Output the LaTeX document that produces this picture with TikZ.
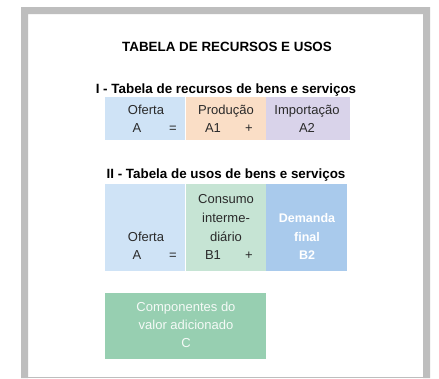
\documentclass[tikz,border=0pt]{standalone}
\usepackage{fontspec}
\setmainfont{Liberation Sans}
\usepackage{tikz}
\usetikzlibrary{positioning}
\definecolor{framegray}{HTML}{BEBEBE}
\definecolor{ofertablue}{HTML}{CFE3F6}
\definecolor{prodorange}{HTML}{FADEC6}
\definecolor{importpurple}{HTML}{D9D3EA}
\definecolor{consgreen}{HTML}{C6E4D4}
\definecolor{demblue}{HTML}{A9CAEC}
\definecolor{valgreen}{HTML}{97CFB1}
\definecolor{textgray}{HTML}{2A2A2A}
\tikzstyle{cell} = [rectangle, inner sep=0pt, anchor=north west]
\tikzstyle{txt} = [inner sep=0pt, anchor=base, text=textgray, font=\fontsize{13}{15}\selectfont]
\tikzstyle{wtxt} = [inner sep=0pt, anchor=base, text=white, font=\fontsize{12.5}{15}\selectfont\bfseries]
\tikzstyle{ltxt} = [inner sep=0pt, anchor=base, text=white!90!valgreen, font=\fontsize{13}{15}\selectfont]
\tikzstyle{head} = [inner sep=0pt, anchor=base, text=black, font=\fontsize{13.4}{15}\selectfont\bfseries]

\begin{document}
\begin{tikzpicture}[x=1pt,y=-1pt]
\useasboundingbox (0,0) rectangle (439,378);
\fill [white] (0,0) rectangle (439,378);
% frame
\fill [framegray] (21,378) -- (21,7) -- (430,7) -- (430,378) -- (423,378) -- (423,14) -- (28,14) -- (28,378) -- cycle;
\fill [framegray] (28,377) rectangle (423,378);

\node [head] (title) at (227,51) {TABELA DE RECURSOS E USOS};

% I - recursos
\node [head] (headI) at (226,93) {I - Tabela de recursos de bens e servi\c{c}os};
\node [cell, fill=ofertablue, minimum width=80pt, minimum height=43pt] (a) at (105,97) {};
\node [cell, fill=prodorange, minimum width=80pt, minimum height=43pt] (a1) [right=0pt of a.north east, anchor=north west] {};
\node [cell, fill=importpurple, minimum width=84pt, minimum height=43pt] (a2) [right=0pt of a1.north east, anchor=north west] {};
\node [txt] (aname) at (146,114) {Oferta};
\node [txt] (asym) at (137,132) {A};
\node [txt] (aeq) at (173,132) {=};
\node [txt] (a1name) at (226,114) {Produ\c{c}\~ao};
\node [txt] (a1sym) at (213,132) {A1};
\node [txt] (a1plus) at (249,132) {+};
\node [txt] (a2name) at (307,114) {Importa\c{c}\~ao};
\node [txt] (a2sym) at (307,132) {A2};

% II - usos
\node [head] (headII) at (226,178) {II - Tabela de usos de bens e servi\c{c}os};
\node [cell, fill=ofertablue, minimum width=80pt, minimum height=87pt] (b) at (105,184) {};
\node [cell, fill=consgreen, minimum width=80pt, minimum height=87pt] (b1) [right=0pt of b.north east, anchor=north west] {};
\node [cell, fill=demblue, minimum width=81pt, minimum height=87pt] (b2) [right=0pt of b1.north east, anchor=north west] {};
\node [txt] (bname) at (146,241) {Oferta};
\node [txt] (bsym) at (137,259) {A};
\node [txt] (beq) at (173,259) {=};
\node [txt] (b1name) at (226,203) {Consumo};
\node [txt] (b1namea) at (226,222) {interme-};
\node [txt] (b1nameb) at (226,241) {di\'ario};
\node [txt] (b1sym) at (213,259) {B1};
\node [txt] (b1plus) at (249,259) {+};
\node [wtxt] (b2name) at (307,222) {Demanda};
\node [wtxt] (b2namea) at (307,241) {final};
\node [wtxt] (b2sym) at (307,259) {B2};

% valor adicionado
\node [cell, fill=valgreen, minimum width=161pt, minimum height=66pt] (c) at (105,293) {};
\node [ltxt] (cname) at (186,311) {Componentes do};
\node [ltxt] (cnamea) at (186,329) {valor adicionado};
\node [ltxt] (csym) at (186,347) {C};
\end{tikzpicture}
\end{document}
